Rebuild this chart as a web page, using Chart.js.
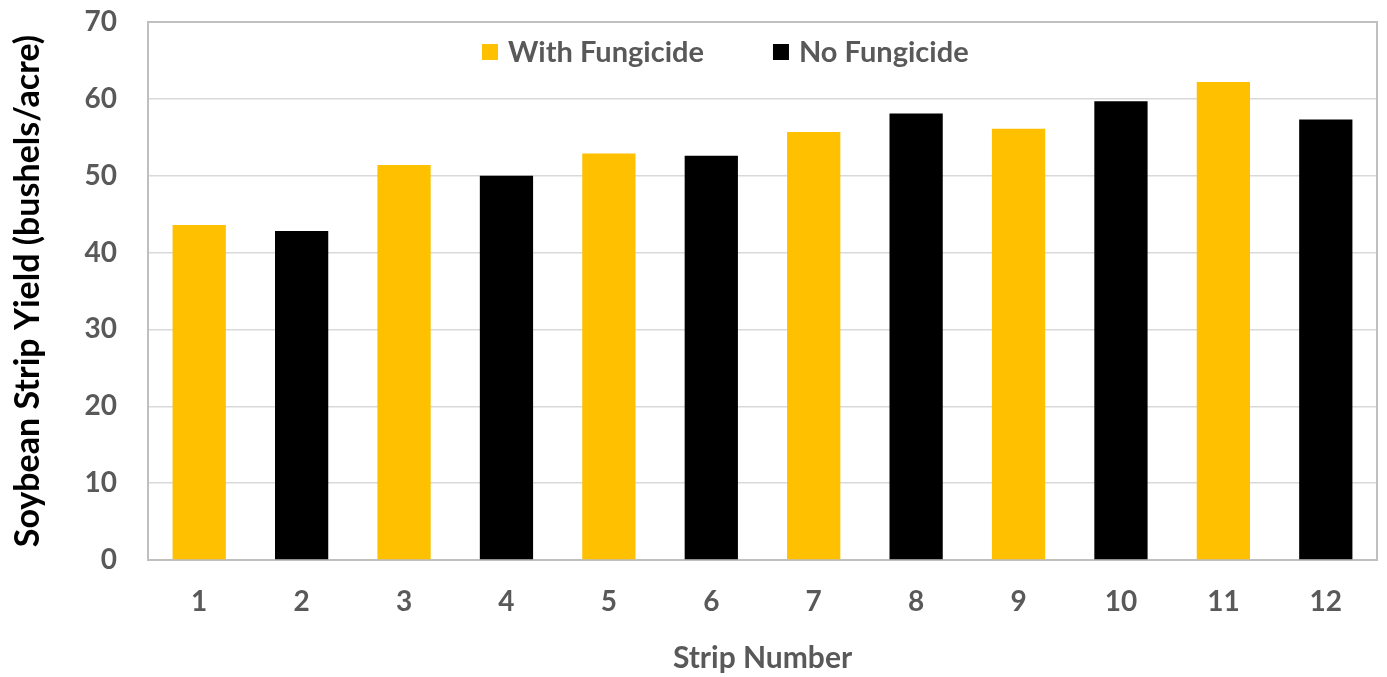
<!DOCTYPE html>
<html>
<head>
<meta charset="utf-8">
<script src="https://cdn.jsdelivr.net/npm/chart.js@4.4.0/dist/chart.umd.min.js"></script>
<style>
  html, body { margin: 0; padding: 0; background: #ffffff; }
  #wrap { width: 1387px; height: 677px; position: relative; }
</style>
</head>
<body>
<div id="wrap"><canvas id="c" width="1387" height="677"></canvas></div>
<script>
const strips = ['1', '2', '3', '4', '5', '6', '7', '8', '9', '10', '11', '12'];
const withFungicide = [43.6, null, 51.4, null, 52.9, null, 55.7, null, 56.1, null, 62.2, null];
const noFungicide = [null, 42.8, null, 50.0, null, 52.6, null, 58.1, null, 59.7, null, 57.3];
const seriesNames = ['With Fungicide', 'No Fungicide'];
const yTitle = 'Soybean Strip Yield (bushels/acre)';
const xTitle = 'Strip Number';

const FONT = 'Lato, "Open Sans", sans-serif';
const GREY = '#595959';

const plotBorder = {
  id: 'plotBorder',
  beforeDatasetsDraw(chart) {
    const { ctx, chartArea: a } = chart;
    ctx.save();
    ctx.strokeStyle = '#bfbfbf';
    ctx.lineWidth = 2;
    ctx.strokeRect(a.left, a.top, a.right - a.left, a.bottom - a.top);
    ctx.restore();
  }
};

const insideLegend = {
  id: 'insideLegend',
  afterDraw(chart, args, opts) {
    const { ctx, chartArea: a } = chart;
    ctx.save();
    ctx.font = 'bold ' + opts.fontSize + 'px ' + FONT;
    ctx.textBaseline = 'middle';
    ctx.textAlign = 'left';
    let x = a.left + opts.offsetX;
    const y = a.top + opts.offsetY;
    chart.data.datasets.forEach((ds) => {
      ctx.fillStyle = ds.backgroundColor;
      ctx.fillRect(x, y - opts.box / 2, opts.box, opts.box);
      x += opts.box + opts.gap;
      ctx.fillStyle = GREY;
      ctx.fillText(ds.label, x, y + 1);
      x += ctx.measureText(ds.label).width + opts.itemGap;
    });
    ctx.restore();
  }
};

new Chart(document.getElementById('c'), {
  type: 'bar',
  data: {
    labels: strips,
    datasets: [
      { label: seriesNames[0], data: withFungicide, backgroundColor: '#FFC000', borderWidth: 0 },
      { label: seriesNames[1], data: noFungicide, backgroundColor: '#000000', borderWidth: 0 }
    ]
  },
  options: {
    responsive: false,
    animation: false,
    devicePixelRatio: 1,
    layout: { padding: { top: 22, right: 10, left: 0, bottom: 0 } },
    datasets: { bar: { barPercentage: 0.52, categoryPercentage: 1.0 } },
    plugins: {
      tooltip: { enabled: false },
      legend: { display: false },
      insideLegend: { offsetX: 334, offsetY: 30, box: 16, gap: 10, itemGap: 69, fontSize: 29 }
    },
    scales: {
      x: {
        stacked: true,
        grid: { display: false, drawTicks: false },
        border: { display: false },
        ticks: { color: GREY, padding: 25, font: { family: FONT, size: 28, weight: 'bold' } },
        title: { display: true, text: xTitle, color: GREY, padding: { top: 0, bottom: 1 }, font: { family: FONT, size: 30, weight: 'bold' } },
        afterFit(scale) { scale.height = 117; scale.paddingLeft = 0; scale.paddingRight = 0; }
      },
      y: {
        stacked: true,
        min: 0,
        max: 70,
        grid: { color: '#d9d9d9', lineWidth: 1.5, drawTicks: false },
        border: { display: false },
        ticks: { stepSize: 10, color: GREY, padding: 31, font: { family: FONT, size: 28, weight: 'bold' } },
        title: { display: true, text: yTitle, color: '#000000', padding: { top: 8, bottom: 0 }, font: { family: FONT, size: 34, weight: 'bold' } },
        afterFit(scale) { scale.width = 148; scale.paddingTop = 0; scale.paddingBottom = 0; }
      }
    }
  },
  plugins: [plotBorder, insideLegend]
});
</script>
</body>
</html>
